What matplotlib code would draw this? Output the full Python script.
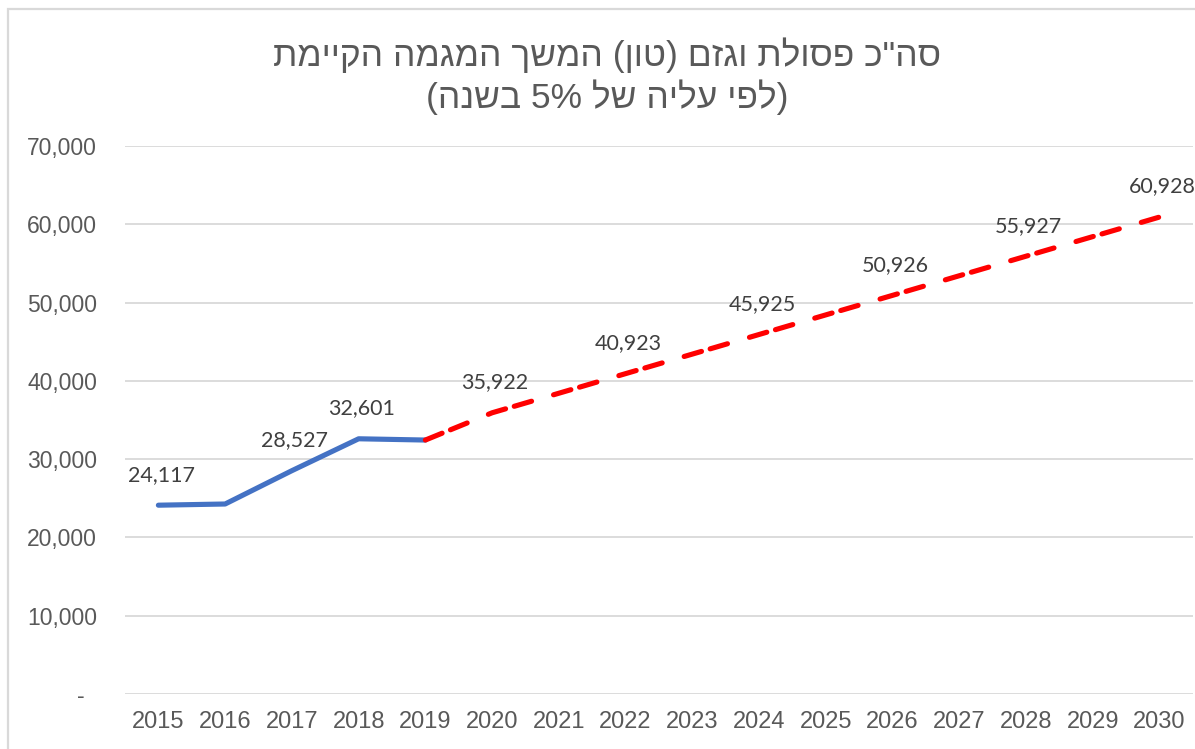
import re
import matplotlib
matplotlib.use("Agg")
import matplotlib.pyplot as plt
from matplotlib.patches import Rectangle

# Data
years = list(range(2015, 2031))
actual_years = [2015, 2016, 2017, 2018, 2019]
actual_values = [24117, 24270, 28527, 32601, 32440]
forecast_years = list(range(2019, 2031))
forecast_values = [32440, 35922, 38420, 40923, 43420, 45925,
                   48430, 50926, 53430, 55927, 58430, 60928]
actual_label_years = [2015, 2017, 2018]
forecast_label_years = [2020, 2022, 2024, 2026, 2028, 2030]

title_line1 = 'סה"כ פסולת וגזם (טון) המשך המגמה הקיימת'
title_line2 = "(לפי עליה של 5% בשנה)"

y_ticks = [0, 10000, 20000, 30000, 40000, 50000, 60000, 70000]

FONT = ["Liberation Sans", "DejaVu Sans"]
LABEL_FONT = ["Lato", "DejaVu Sans"]
GRID = "#d9d9d9"
TEXT = "#595959"
BLUE = "#4472C4"
RED = "#FF0000"

plt.rcParams["font.family"] = FONT
plt.rcParams["lines.scale_dashes"] = False


# matplotlib has no bidi support, so put RTL text in visual order
def visual(s):
    r = s[::-1].translate(str.maketrans("()", ")("))
    return re.sub(r"[0-9%.,]+", lambda m: m.group(0)[::-1], r)


def fmt(v):
    return "-  " if v == 0 else f"{v:,}"


fig = plt.figure(figsize=(11.95, 7.49), dpi=100)
W, H = 1195, 749

# chart frame (cropped Excel chart border)
fig.patches.append(Rectangle((8 / W, -0.1), 1.2, 1.1 - 9 / H,
                             transform=fig.transFigure, fill=False,
                             edgecolor=GRID, linewidth=1.6))

ax = fig.add_axes([125 / W, 1 - 694 / H, (1193 - 125) / W, (694 - 146) / H])

pos = {y: i for i, y in enumerate(years)}
ax_x = [pos[y] for y in actual_years]
fc_x = [pos[y] for y in forecast_years]

ax.plot(ax_x, actual_values, color=BLUE, linewidth=3.7,
        solid_capstyle="round", solid_joinstyle="round", zorder=3)
ax.plot(fc_x, forecast_values, color=RED, linewidth=3.7,
        dashes=(13, 6.5, 13, 16.5), dash_capstyle="round", zorder=3)

for y in actual_label_years:
    v = actual_values[actual_years.index(y)]
    ax.annotate(f"{v:,}", (pos[y], v), xytext=(2, 22), textcoords="offset points",
                ha="center", va="center", fontsize=15.5, color="#404040",
                family=LABEL_FONT, annotation_clip=False)
for y in forecast_label_years:
    v = forecast_values[forecast_years.index(y)]
    ax.annotate(f"{v:,}", (pos[y], v), xytext=(2, 22), textcoords="offset points",
                ha="center", va="center", fontsize=15.5, color="#404040",
                family=LABEL_FONT, annotation_clip=False)

ax.set_xlim(-0.5, len(years) - 0.5)
ax.set_ylim(0, 70000)
ax.set_xticks(range(len(years)))
ax.set_xticklabels([str(y) for y in years])
ax.set_yticks(y_ticks)
ax.set_yticklabels([fmt(v) for v in y_ticks])
ax.tick_params(axis="both", length=0, labelcolor=TEXT)
ax.tick_params(axis="x", pad=12, labelsize=17)
ax.tick_params(axis="y", pad=20, labelsize=16.5)

ax.grid(axis="y", color=GRID, linewidth=1.3)
ax.set_axisbelow(True)
for s in ax.spines.values():
    s.set_visible(False)

fig.text(607 / W, 1 - 55 / H, visual(title_line1), ha="center", va="center",
         fontsize=25.5, color=TEXT)
fig.text(607 / W, 1 - 97 / H, visual(title_line2), ha="center", va="center",
         fontsize=25.5, color=TEXT)

fig.savefig("out.png", dpi=100)
